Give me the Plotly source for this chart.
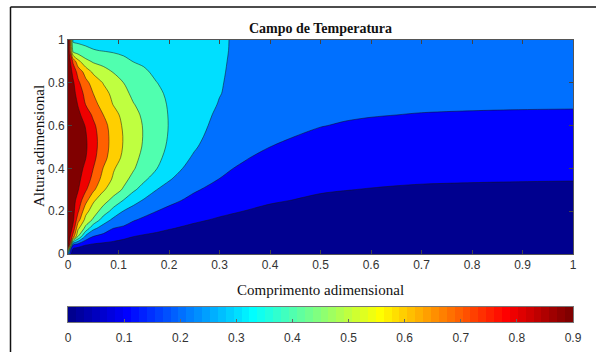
import numpy as np
import plotly.graph_objects as go

# ---------------- data ----------------
comprimento = [0, 0.01, 0.02, 0.035, 0.05, 0.07, 0.09, 0.11, 0.13, 0.15, 0.175,
               0.2, 0.25, 0.3, 0.35, 0.4, 0.5, 0.55, 0.6, 0.65, 0.7, 0.85, 1.0]
altura = [0, 0.04, 0.08, 0.12, 0.16, 0.2, 0.25, 0.3, 0.35, 0.4, 0.45, 0.5,
          0.55, 0.6, 0.65, 0.7, 0.75, 0.8, 0.85, 0.9, 0.95, 1.0]

# temperature, one row per 'altura' value, one column per 'comprimento' value
temperatura = [
    [0.3, 0, 0, 0, 0, 0, 0, 0, 0, 0, 0, 0, 0, 0, 0, 0, 0, 0, 0, 0, 0, 0, 0],
    [1.0, 0.16, 0.13, 0.095, 0.08, 0.07, 0.062, 0.056, 0.05, 0.044, 0.04, 0.035, 0.028, 0.023, 0.02, 0.017, 0.014, 0.0135, 0.013, 0.0126, 0.0123, 0.0119, 0.0117],
    [1.0, 0.75, 0.486, 0.267, 0.191, 0.167, 0.143, 0.118, 0.098, 0.088, 0.079, 0.07, 0.056, 0.046, 0.039, 0.034, 0.0285, 0.027, 0.026, 0.0252, 0.0245, 0.0238, 0.0235],
    [1.0, 0.875, 0.62, 0.469, 0.325, 0.253, 0.2, 0.183, 0.153, 0.135, 0.12, 0.105, 0.083, 0.069, 0.059, 0.052, 0.0427, 0.0405, 0.039, 0.0377, 0.0368, 0.0357, 0.0352],
    [1.0, 0.92, 0.74, 0.568, 0.487, 0.353, 0.279, 0.245, 0.208, 0.184, 0.161, 0.142, 0.112, 0.092, 0.079, 0.069, 0.0569, 0.0541, 0.0519, 0.0503, 0.0491, 0.0476, 0.0469],
    [1.0, 0.93, 0.813, 0.633, 0.55, 0.456, 0.363, 0.296, 0.26, 0.232, 0.201, 0.178, 0.141, 0.116, 0.099, 0.086, 0.0712, 0.0676, 0.0649, 0.0629, 0.0613, 0.0595, 0.0587],
    [1.0, 0.937, 0.86, 0.731, 0.615, 0.538, 0.467, 0.395, 0.333, 0.291, 0.252, 0.222, 0.177, 0.143, 0.121, 0.107, 0.089, 0.0845, 0.0812, 0.0786, 0.0767, 0.0744, 0.0733],
    [1.0, 0.952, 0.905, 0.812, 0.719, 0.611, 0.547, 0.488, 0.413, 0.361, 0.301, 0.266, 0.209, 0.171, 0.144, 0.125, 0.1061, 0.1012, 0.0974, 0.0943, 0.092, 0.0893, 0.088],
    [1.0, 0.962, 0.923, 0.853, 0.771, 0.665, 0.586, 0.529, 0.47, 0.418, 0.357, 0.308, 0.235, 0.199, 0.166, 0.144, 0.1223, 0.1168, 0.1128, 0.1096, 0.1072, 0.1042, 0.1027],
    [1.0, 0.968, 0.936, 0.879, 0.8, 0.696, 0.609, 0.556, 0.508, 0.45, 0.404, 0.345, 0.261, 0.213, 0.189, 0.163, 0.1385, 0.1323, 0.128, 0.1247, 0.1222, 0.1191, 0.1176],
    [1.0, 0.972, 0.944, 0.903, 0.826, 0.732, 0.648, 0.58, 0.527, 0.475, 0.425, 0.37, 0.287, 0.227, 0.205, 0.181, 0.1547, 0.1478, 0.1432, 0.1398, 0.1372, 0.134, 0.1325],
    [1.0, 0.975, 0.95, 0.913, 0.839, 0.743, 0.663, 0.593, 0.54, 0.49, 0.438, 0.386, 0.31, 0.24, 0.214, 0.2, 0.1709, 0.1634, 0.1584, 0.1548, 0.1523, 0.149, 0.1475],
    [1.0, 0.974, 0.947, 0.908, 0.837, 0.743, 0.664, 0.595, 0.543, 0.495, 0.443, 0.394, 0.327, 0.254, 0.225, 0.213, 0.1871, 0.1789, 0.1736, 0.1699, 0.1673, 0.1639, 0.1624],
    [1.0, 0.97, 0.94, 0.895, 0.82, 0.733, 0.656, 0.587, 0.537, 0.494, 0.443, 0.397, 0.34, 0.267, 0.236, 0.225, 0.2022, 0.1944, 0.1888, 0.1849, 0.1823, 0.1788, 0.1773],
    [1.0, 0.962, 0.923, 0.855, 0.783, 0.7, 0.633, 0.574, 0.525, 0.485, 0.438, 0.396, 0.346, 0.281, 0.247, 0.236, 0.2132, 0.2075, 0.2032, 0.2001, 0.1973, 0.1937, 0.1922],
    [1.0, 0.953, 0.893, 0.796, 0.733, 0.66, 0.595, 0.548, 0.503, 0.47, 0.432, 0.392, 0.348, 0.295, 0.258, 0.246, 0.2241, 0.2192, 0.2154, 0.2126, 0.2106, 0.2077, 0.2064],
    [1.0, 0.933, 0.862, 0.768, 0.7, 0.633, 0.576, 0.529, 0.477, 0.455, 0.418, 0.386, 0.347, 0.303, 0.267, 0.255, 0.2351, 0.2309, 0.2277, 0.2253, 0.2235, 0.221, 0.2199],
    [1.0, 0.917, 0.82, 0.728, 0.664, 0.595, 0.548, 0.5, 0.451, 0.437, 0.402, 0.378, 0.345, 0.305, 0.275, 0.263, 0.2461, 0.2426, 0.24, 0.2379, 0.2364, 0.2343, 0.2333],
    [1.0, 0.871, 0.767, 0.662, 0.584, 0.539, 0.496, 0.468, 0.424, 0.412, 0.385, 0.368, 0.34, 0.306, 0.281, 0.27, 0.2571, 0.2544, 0.2522, 0.2506, 0.2493, 0.2476, 0.2467],
    [1.0, 0.783, 0.629, 0.528, 0.488, 0.465, 0.441, 0.418, 0.398, 0.388, 0.37, 0.357, 0.333, 0.306, 0.286, 0.277, 0.268, 0.2661, 0.2645, 0.2632, 0.2622, 0.2609, 0.2601],
    [1.0, 0.46, 0.44, 0.42, 0.405, 0.397, 0.39, 0.383, 0.375, 0.368, 0.356, 0.345, 0.326, 0.305, 0.291, 0.285, 0.279, 0.2778, 0.2767, 0.2759, 0.2751, 0.2742, 0.2736],
    [1.0, 0.385, 0.38, 0.375, 0.37, 0.365, 0.36, 0.355, 0.35, 0.345, 0.338, 0.332, 0.318, 0.303, 0.295, 0.292, 0.29, 0.2895, 0.289, 0.2885, 0.288, 0.2875, 0.287],
]

niveis_inicio, niveis_fim, niveis_passo = 0.1, 0.9, 0.1
escala_min, escala_max = 0.0, 0.9
ticks_x = [0, 0.1, 0.2, 0.3, 0.4, 0.5, 0.6, 0.7, 0.8, 0.9, 1]
ticks_y = [0, 0.2, 0.4, 0.6, 0.8, 1]
ticks_barra = [0, 0.1, 0.2, 0.3, 0.4, 0.5, 0.6, 0.7, 0.8, 0.9]
n_cores = 64

# ---------------- MATLAB jet(64) colormap ----------------
def jet(m=64):
    n = int(np.ceil(m / 4))
    u = np.concatenate([np.arange(1, n + 1) / n, np.ones(n - 1), np.arange(n, 0, -1) / n])
    g = int(np.ceil(n / 2)) - (1 if m % 4 == 1 else 0) + np.arange(1, len(u) + 1)
    r = g + n
    b = g - n
    J = np.zeros((m, 3))
    J[r[r <= m] - 1, 0] = u[r <= m]
    J[g[g <= m] - 1, 1] = u[g <= m]
    J[b[b >= 1] - 1, 2] = u[b >= 1]
    return ['rgb(%d,%d,%d)' % tuple(np.round(c * 255)) for c in J]

J64 = jet(n_cores)

# step colorscale for the colour bar
cs_bar = []
for i, c in enumerate(J64):
    cs_bar.append([i / n_cores, c])
    cs_bar.append([(i + 1) / n_cores, c])

# band colours (MATLAB uses the colour of each band's lower level)
band_levels = [0.0] + list(np.arange(niveis_inicio, niveis_fim + 1e-9, niveis_passo))
band_cols = [J64[min(n_cores - 1, int(np.floor((L - escala_min) / (escala_max - escala_min) * n_cores + 1e-9)))]
             for L in band_levels]
nb = len(band_cols)
cs_fill = []
for k, c in enumerate(band_cols):
    lo = max(0.0, (k - 0.5) / (nb - 1))
    hi = min(1.0, (k + 0.5) / (nb - 1))
    cs_fill.append([lo, c])
    cs_fill.append([hi, c])

fig = go.Figure()
fig.add_trace(go.Contour(
    x=comprimento, y=altura, z=temperatura,
    autocontour=False,
    contours=dict(start=niveis_inicio, end=niveis_fim, size=niveis_passo, coloring='fill'),
    colorscale=cs_fill, showscale=False,
    line=dict(color='rgba(20,20,20,0.85)', width=0.6, smoothing=0.9),
    hoverinfo='skip', xaxis='x', yaxis='y',
))

# colour bar drawn as a one-row heatmap on its own axes
passo_barra = (escala_max - escala_min) / n_cores
centros = [escala_min + (i + 0.5) * passo_barra for i in range(n_cores)]
fig.add_trace(go.Heatmap(
    x=centros, y=[0], z=[centros], zmin=escala_min, zmax=escala_max,
    colorscale=cs_bar, showscale=False, hoverinfo='skip', xaxis='x2', yaxis='y2',
))

sans = 'Liberation Sans'
serif = 'Liberation Serif'

H_AREA_TOP, H_AREA_BOT = 40, 342        # paper area in pixels
span = H_AREA_BOT - H_AREA_TOP
def py(v):
    return (H_AREA_BOT - v) / span
def px(v):
    return (v - 68) / 505

axis_common = dict(showgrid=False, zeroline=False, ticks='inside', ticklen=4,
                   tickcolor='#444', showline=True, linecolor='#555', linewidth=0.6,
                   mirror='ticks', automargin=False,
                   tickfont=dict(family=sans, size=12, color='#333'))

fig.update_layout(
    width=596, height=352,
    margin=dict(l=68, r=23, t=H_AREA_TOP, b=352 - H_AREA_BOT),
    paper_bgcolor='white', plot_bgcolor='white',
    xaxis=dict(range=[0, 1], tickvals=ticks_x, domain=[0, 1], anchor='y', **axis_common),
    yaxis=dict(range=[0, 1], tickvals=ticks_y, domain=[py(254), 1], anchor='x', **axis_common),
    xaxis2=dict(range=[escala_min, escala_max], tickvals=ticks_barra, domain=[0, 1], anchor='y2',
                showgrid=False, zeroline=False, ticks='inside', ticklen=3, tickcolor='#666',
                showline=True, linecolor='#777', linewidth=0.6, mirror=True, automargin=False,
                ticklabelstandoff=5,
                tickfont=dict(family=sans, size=12, color='#333')),
    yaxis2=dict(range=[-0.5, 0.5], domain=[py(322), py(307)], anchor='x2', showticklabels=False,
                ticks='', showgrid=False, zeroline=False, showline=True, linecolor='#777',
                linewidth=0.6, mirror=True, automargin=False),
    title=dict(text='<b>Campo de Temperatura</b>', x=0.5, xref='paper', xanchor='center',
               y=1 - 28 / 352, yref='container', yanchor='middle',
               font=dict(family=serif, size=14, color='#111')),
    annotations=[
        dict(text='Comprimento adimensional', x=0.5, y=py(290), xref='paper', yref='paper',
             showarrow=False, xanchor='center', yanchor='middle',
             font=dict(family=serif, size=15, color='#111')),
        dict(text='Altura adimensional', x=px(39), y=py(146), xref='paper',
             yref='paper', showarrow=False, textangle=-90, xanchor='center', yanchor='middle',
             font=dict(family=serif, size=15, color='#111')),
    ],
    shapes=[
        dict(type='line', xref='paper', yref='paper', x0=px(10.5), x1=px(10.5),
             y0=py(362), y1=py(7), line=dict(color='#111', width=1.5)),
        dict(type='line', xref='paper', yref='paper', x0=px(10.5), x1=px(600),
             y0=py(7), y1=py(7), line=dict(color='#111', width=1.5)),
    ],
)

fig.write_html('out.html')
